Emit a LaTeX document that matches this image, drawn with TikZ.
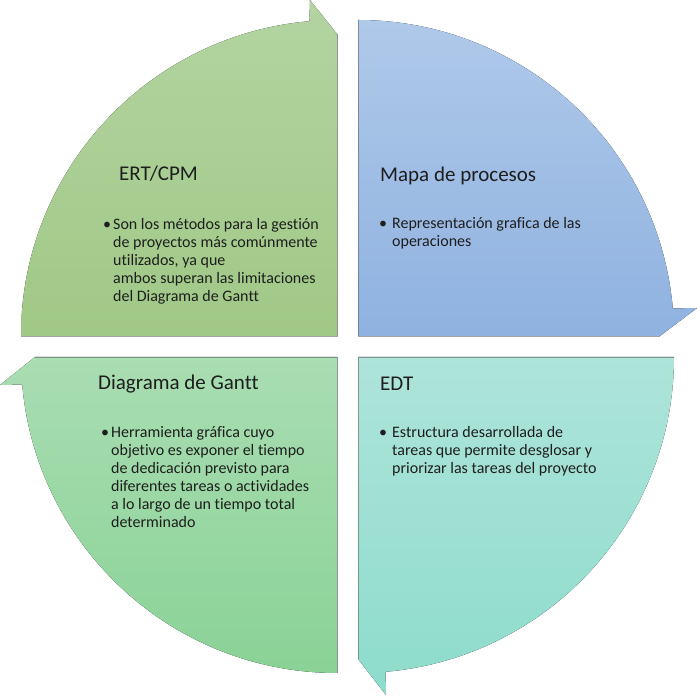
\documentclass[tikz,border=0pt]{standalone}
\usepackage{fontspec}
\setmainfont{Carlito}[Ligatures={TeX,NoCommon}]
\usepackage{tikz}
\usetikzlibrary{positioning,calc}

\definecolor{ertTop}{HTML}{B3D4A1}
\definecolor{ertBot}{HTML}{A0C886}
\definecolor{mapaTop}{HTML}{AFC9E9}
\definecolor{mapaBot}{HTML}{8FB2E0}
\definecolor{edtTop}{HTML}{AEE4DA}
\definecolor{edtBot}{HTML}{8DDCCB}
\definecolor{ganttTop}{HTML}{A9DDB2}
\definecolor{ganttBot}{HTML}{8AD296}
\definecolor{inkGray}{HTML}{1E1E1E}

\tikzset{
    segment/.style={shading=axis, top color=#1Top, bottom color=#1Bot},
    rim/.style={draw=black!65, line width=0.8pt, opacity=0.55},
    headtext/.style={anchor=base west, inner sep=0pt, text=inkGray, font=\fontsize{21}{25}\selectfont},
    itemtext/.style={anchor=base west, inner sep=0pt, text=inkGray, font=\fontsize{16}{17.9}\selectfont}
}

\begin{document}
\begin{tikzpicture}[x=1pt, y=1pt]
    \useasboundingbox (0,0) rectangle (697,696);

    \fill[segment=ert] (337,360) -- (21,360) arc[start angle=180, end angle=95, radius=316] -- (310,696) -- (337,662) -- cycle;
    \fill[segment=mapa] (358,360) -- (358,676) arc[start angle=90, end angle=5, radius=316] -- (697,388) -- (660,360) -- cycle;
    \fill[segment=edt] (358,339) -- (674,339) arc[start angle=0, end angle=-85, radius=316] -- (386,1) -- (358,37) -- cycle;
    \fill[segment=gantt] (337,339) -- (337,23) arc[start angle=270, end angle=185, radius=316] -- (0,311) -- (35,339) -- cycle;

    \draw[rim] (337,662) -- (337,360) -- (21,360);
    \draw[rim] (358,676) -- (358,360) -- (660,360);
    \draw[rim] (674,339) -- (358,339) -- (358,37);
    \draw[rim] (35,339) -- (337,339) -- (337,23);

    \node[headtext] (ert) at (119,515) {ERT/CPM};
    \node[itemtext] (ertitem) at (103,466) {\begin{tabular}[t]{@{}l@{\hspace{2pt}}l@{}}
        \textbullet & Son los métodos para la gestión\\
        & de proyectos más comúnmente\\
        & utilizados, ya que\\
        & ambos superan las limitaciones\\
        & del Diagrama de Gantt
    \end{tabular}};

    \node[headtext] (mapa) at (380,514) {Mapa de procesos};
    \node[itemtext] (mapaitem) at (379,467) {\begin{tabular}[t]{@{}l@{\hspace{5pt}}l@{}}
        \textbullet & Representación grafica de las\\
        & operaciones
    \end{tabular}};

    \node[headtext] (gantt) at (98,306) {Diagrama de Gantt};
    \node[itemtext] (ganttitem) at (101,258) {\begin{tabular}[t]{@{}l@{\hspace{2pt}}l@{}}
        \textbullet & Herramienta gráfica cuyo\\
        & objetivo es exponer el tiempo\\
        & de dedicación previsto para\\
        & diferentes tareas o actividades\\
        & a lo largo de un tiempo total\\
        & determinado
    \end{tabular}};

    \node[headtext] (edt) at (380,305) {EDT};
    \node[itemtext] (edtitem) at (379,258) {\begin{tabular}[t]{@{}l@{\hspace{5pt}}l@{}}
        \textbullet & Estructura desarrollada de\\
        & tareas que permite desglosar y\\
        & priorizar las tareas del proyecto
    \end{tabular}};
\end{tikzpicture}
\end{document}
